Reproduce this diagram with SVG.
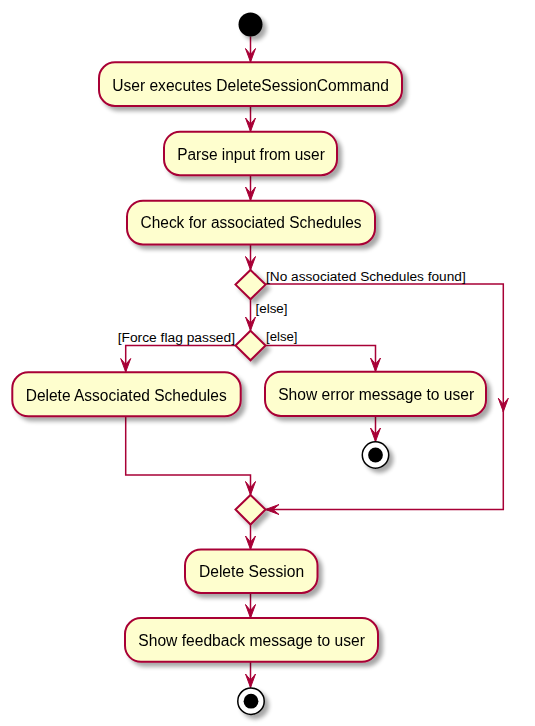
<svg xmlns="http://www.w3.org/2000/svg" width="535" height="726" viewBox="0 0 535 726">
<style>
.box{fill:#FEFECE;stroke:#A80036;stroke-width:2}
.dia{fill:#FEFECE;stroke:#A80036;stroke-width:2}
.t{font-family:"Liberation Sans",Arial,sans-serif;font-size:15.6px;fill:#000;text-anchor:middle}
.lb{font-family:"Liberation Sans",Arial,sans-serif;font-size:13.7px;fill:#000}
.c{fill:none;stroke:#A80036;stroke-width:1.5}
</style>
<defs>
<filter id="sh" x="-20%" y="-30%" width="150%" height="170%">
<feGaussianBlur in="SourceAlpha" stdDeviation="2"/>
<feOffset dx="3.5" dy="3.5" result="o"/>
<feComponentTransfer><feFuncA type="linear" slope="0.35"/></feComponentTransfer>
<feMerge><feMergeNode/><feMergeNode in="SourceGraphic"/></feMerge>
</filter>
<marker id="ah" markerUnits="userSpaceOnUse" viewBox="-14 -6 15 12" refX="0" refY="0" markerWidth="15" markerHeight="12" orient="auto" overflow="visible">
<path d="M0,0 L-13.5,-5 L-7.5,0 L-13.5,5 Z" fill="#A80036" stroke="#A80036" stroke-width="1"/>
</marker>
</defs>
<rect width="535" height="726" fill="#fff"/>

<g id="connectors">
<path class="c" d="M250.5,36.5 V62" marker-end="url(#ah)"/>
<path class="c" d="M250.5,105.5 V131.5" marker-end="url(#ah)"/>
<path class="c" d="M250.5,175 V200.5" marker-end="url(#ah)"/>
<path class="c" d="M250.5,244.5 V270" marker-end="url(#ah)"/>
<path class="c" d="M250.5,299.5 V330.5" marker-end="url(#ah)"/>
<path class="c" d="M265.5,284 H503.3 V411.7" marker-end="url(#ah)"/>
<path class="c" d="M503.3,411 V509.5 H265.5" marker-end="url(#ah)"/>
<path class="c" d="M235.5,345.6 H125.7 V372" marker-end="url(#ah)"/>
<path class="c" d="M265.5,345.6 H375.5 V371.5" marker-end="url(#ah)"/>
<path class="c" d="M375.5,416 V441.5" marker-end="url(#ah)"/>
<path class="c" d="M125.7,416.5 V475 H250.5 V495" marker-end="url(#ah)"/>
<path class="c" d="M250.5,524.5 V549.5" marker-end="url(#ah)"/>
<path class="c" d="M250.5,593 V618" marker-end="url(#ah)"/>
<path class="c" d="M250.5,662 V687.5" marker-end="url(#ah)"/>
</g>

<g id="start" filter="url(#sh)">
<circle cx="250.5" cy="24.5" r="12" fill="#000"/>
</g>

<g id="n1" filter="url(#sh)">
<rect class="box" x="99" y="62.3" width="303" height="43.7" rx="16"/>
<text class="t" x="250.5" y="90.6" textLength="276.7" lengthAdjust="spacingAndGlyphs">User executes DeleteSessionCommand</text>
</g>

<g id="n2" filter="url(#sh)">
<rect class="box" x="164" y="131.7" width="173" height="43.5" rx="16"/>
<text class="t" x="251" y="159.8" textLength="147.7" lengthAdjust="spacingAndGlyphs">Parse input from user</text>
</g>

<g id="n3" filter="url(#sh)">
<rect class="box" x="127" y="200.7" width="248" height="43.7" rx="16"/>
<text class="t" x="251" y="228.3" textLength="221" lengthAdjust="spacingAndGlyphs">Check for associated Schedules</text>
</g>

<g id="d1" filter="url(#sh)">
<polygon class="dia" points="250.5,270 265.5,284.6 250.5,299.3 235.5,284.6"/>
</g>
<text class="lb" x="266" y="281" textLength="199.7" lengthAdjust="spacingAndGlyphs">[No associated Schedules found]</text>
<text class="lb" x="255.5" y="313.3" textLength="32" lengthAdjust="spacingAndGlyphs">[else]</text>

<g id="d2" filter="url(#sh)">
<polygon class="dia" points="250.5,330.7 265.5,345.5 250.5,360.3 235.5,345.5"/>
</g>
<text class="lb" x="117.7" y="341.7" textLength="117.3" lengthAdjust="spacingAndGlyphs">[Force flag passed]</text>
<text class="lb" x="266" y="341.3" textLength="31.5" lengthAdjust="spacingAndGlyphs">[else]</text>

<g id="n4" filter="url(#sh)">
<rect class="box" x="12.3" y="372.3" width="228.4" height="44" rx="16"/>
<text class="t" x="126.2" y="401" textLength="201" lengthAdjust="spacingAndGlyphs">Delete Associated Schedules</text>
</g>

<g id="n5" filter="url(#sh)">
<rect class="box" x="265" y="371.7" width="221" height="44.3" rx="16"/>
<text class="t" x="376.2" y="400.2" textLength="196" lengthAdjust="spacingAndGlyphs">Show error message to user</text>
</g>

<g id="stop1" filter="url(#sh)">
<circle cx="375.5" cy="455" r="13.2" fill="#fff" stroke="#000" stroke-width="1.5"/>
<circle cx="375.5" cy="455" r="7.4" fill="#000"/>
</g>

<g id="d3" filter="url(#sh)">
<polygon class="dia" points="250.5,495 265.5,509.5 250.5,524.5 235.5,509.5"/>
</g>

<g id="n6" filter="url(#sh)">
<rect class="box" x="185" y="549.6" width="132.5" height="43.4" rx="16"/>
<text class="t" x="251.5" y="577.3" textLength="105.2" lengthAdjust="spacingAndGlyphs">Delete Session</text>
</g>

<g id="n7" filter="url(#sh)">
<rect class="box" x="125" y="618" width="253" height="43.8" rx="16"/>
<text class="t" x="251.6" y="646.4" textLength="226.6" lengthAdjust="spacingAndGlyphs">Show feedback message to user</text>
</g>

<g id="stop2" filter="url(#sh)">
<circle cx="251" cy="701.2" r="13.2" fill="#fff" stroke="#000" stroke-width="1.5"/>
<circle cx="251" cy="701.2" r="7.4" fill="#000"/>
</g>
</svg>
